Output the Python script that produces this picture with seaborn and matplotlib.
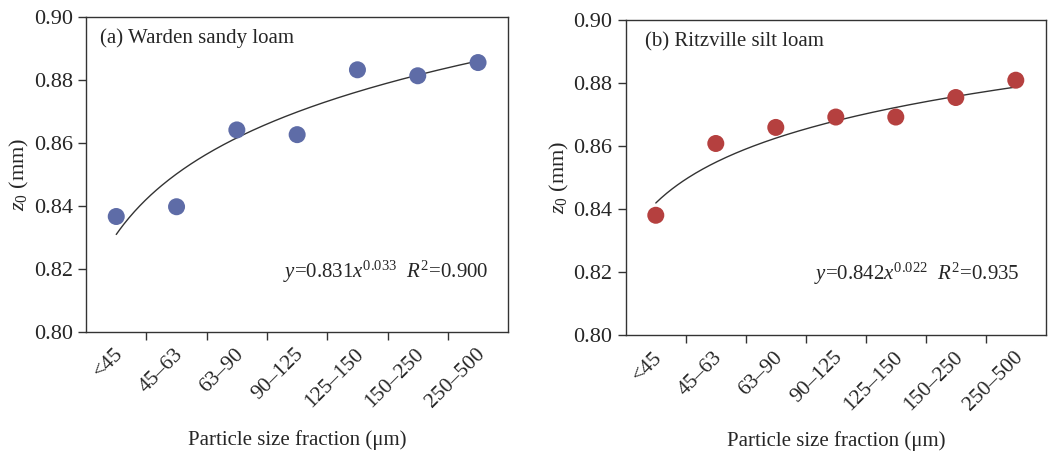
import numpy as np
import pandas as pd
import matplotlib
matplotlib.use('Agg')
import matplotlib.pyplot as plt
import matplotlib.transforms as mtrans
import seaborn as sns

# ---- data ----
fractions = ['<45', '45\u201363', '63\u201390', '90\u2013125', '125\u2013150', '150\u2013250', '250\u2013500']
z0_warden = [0.8367, 0.8398, 0.8642, 0.8627, 0.8833, 0.8814, 0.8856]
z0_ritz   = [0.8381, 0.8609, 0.8660, 0.8693, 0.8693, 0.8755, 0.8810]

# power fits y = a * x^b shown on the chart
fit_warden = (0.831, 0.033, 0.900)
fit_ritz   = (0.842, 0.022, 0.935)

titles = ['(a) Warden sandy loam', '(b) Ritzville silt loam']
colors = ['#5e6ca7', '#b5403f']

sns.set_style('ticks')
plt.rcParams['font.family'] = ['Liberation Serif', 'DejaVu Serif']
plt.rcParams['mathtext.fontset'] = 'custom'
plt.rcParams['mathtext.rm'] = 'Liberation Serif'
plt.rcParams['mathtext.it'] = 'Liberation Serif:italic'

fig = plt.figure(figsize=(10.5, 4.53), dpi=100)
rects = [[0.082, 0.267, 0.402, 0.695], [0.596, 0.260, 0.400, 0.695]]
text_pos = [(0.033, 0.933), (0.045, 0.931)]
eq_pos = [(6.18, 0.8190), (6.07, 0.8195)]
xlab_pad = [13.5, 11.5]

for i, (vals, fit) in enumerate([(z0_warden, fit_warden), (z0_ritz, fit_ritz)]):
    ax = fig.add_axes(rects[i])
    df = pd.DataFrame({'pos': np.arange(len(fractions)), 'z0': vals})
    a, b, r2 = fit
    xf = np.linspace(1, len(fractions), 200)
    fit_df = pd.DataFrame({'pos': xf - 1, 'z0': a * xf ** b})
    sns.lineplot(data=fit_df, x='pos', y='z0', ax=ax, color='#333333', lw=1.0)
    sns.scatterplot(data=df, x='pos', y='z0', ax=ax, color=colors[i], s=150,
                    edgecolor='none', zorder=3)

    ax.set_xlim(-0.5, 6.5)
    ax.set_ylim(0.80, 0.90)
    yt = [0.80, 0.82, 0.84, 0.86, 0.88, 0.90]
    ax.set_yticks(yt)
    ax.set_yticklabels(['%.2f' % v for v in yt], fontsize=16)
    ax.set_xticks(np.arange(0.5, 6.0, 1.0))
    ax.set_xticklabels([])
    ax.set_xticks(np.arange(len(fractions)), minor=True)
    ax.set_xticklabels(fractions, minor=True, rotation=45, ha='right', va='center',
                       rotation_mode='anchor', fontsize=15.5)
    ax.tick_params(axis='x', which='minor', length=0, pad=14)
    ax.tick_params(axis='both', which='major', length=6, width=1, color='#333333')
    for lbl in ax.get_xticklabels(minor=True):
        lbl.set_transform(lbl.get_transform() + mtrans.ScaledTranslation(0.04, 0, fig.dpi_scale_trans))

    for sp in ax.spines.values():
        sp.set_visible(True)
        sp.set_color('#333333')
        sp.set_linewidth(1.0)

    ax.set_xlabel('Particle size fraction (\u03bcm)', fontsize=15, labelpad=xlab_pad[i])
    ax.set_ylabel(r'$z_0$ (mm)', fontsize=16, labelpad=2)
    ax.text(*text_pos[i], titles[i], transform=ax.transAxes, fontsize=15,
            ha='left', va='center')
    eq = r'$y$=%.3f$x^{\mathrm{%.3f}}$  $R^{\mathrm{2}}$=%.3f' % (a, b, r2)
    ax.text(*eq_pos[i], eq, fontsize=15, ha='right', va='center')

fig.savefig('out.png', dpi=100)
